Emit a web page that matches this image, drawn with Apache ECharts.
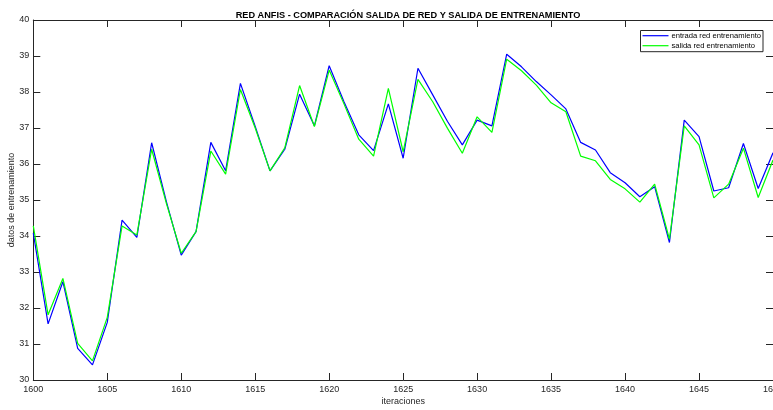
<!DOCTYPE html>
<html>
<head>
<meta charset="utf-8">
<script src="https://cdn.jsdelivr.net/npm/echarts@6/dist/echarts.min.js"></script>
<style>html,body{margin:0;padding:0;background:#fff;}#c{width:773px;height:410px;}</style>
</head>
<body>
<div id="c"></div>
<script>
const iteraciones = [1600,1601,1602,1603,1604,1605,1606,1607,1608,1609,1610,1611,1612,1613,1614,1615,1616,1617,1618,1619,1620,1621,1622,1623,1624,1625,1626,1627,1628,1629,1630,1631,1632,1633,1634,1635,1636,1637,1638,1639,1640,1641,1642,1643,1644,1645,1646,1647,1648,1649,1650];
const entrada = [34.08,31.56,32.73,30.88,30.42,31.60,34.44,33.96,36.59,34.95,33.47,34.12,36.60,35.81,38.24,37.04,35.81,36.41,37.94,37.06,38.73,37.73,36.81,36.37,37.67,36.16,38.66,37.92,37.18,36.53,37.22,37.06,39.05,38.70,38.29,37.92,37.53,36.60,36.39,35.76,35.48,35.09,35.37,33.82,37.22,36.76,35.25,35.34,36.57,35.32,36.31];
const salida = [34.28,31.81,32.82,31.02,30.53,31.74,34.28,34.03,36.41,34.90,33.52,34.12,36.36,35.72,38.07,37.00,35.81,36.45,38.18,37.04,38.61,37.67,36.69,36.22,38.10,36.34,38.35,37.73,36.99,36.30,37.31,36.88,38.91,38.59,38.19,37.70,37.45,36.22,36.09,35.57,35.31,34.94,35.44,33.91,37.06,36.53,35.06,35.44,36.44,35.07,36.11];
const serieNames = ['entrada red entrenamiento','salida red entrenamiento'];
const titulo = 'RED ANFIS - COMPARACIÓN SALIDA DE RED Y SALIDA DE ENTRENAMIENTO';
const xLabel = 'iteraciones';
const yLabel = 'datos de entrenamiento';

const axisCol = '#262626';
const font = 'Liberation Sans, Arial, sans-serif';
const chart = echarts.init(document.getElementById('c'), null, {renderer:'canvas'});
const common = {
  type:'value',
  axisLine:{show:true,onZero:false,lineStyle:{color:axisCol,width:1}},
  axisTick:{show:true,inside:true,length:7,lineStyle:{color:axisCol,width:1}},
  splitLine:{show:false}
};
chart.setOption({
  animation:false,
  backgroundColor:'#fff',
  title:{text:titulo,left:403,top:6,textAlign:'center',textStyle:{fontFamily:font,fontSize:9.2,fontWeight:'bold',color:'#000'}},
  legend:{
    data:serieNames, orient:'vertical', right:10, top:30.5,
    backgroundColor:'#fff', borderColor:'#262626', borderWidth:1, padding:[1.2,2,2,2],
    itemWidth:26, itemHeight:1.2, itemGap:2, icon:'rect',
    textStyle:{fontFamily:font,fontSize:7.6,lineHeight:8,color:'#000',padding:[0,0,0,-2]}
  },
  grid:{left:33.3,right:0,top:20,bottom:30,containLabel:false,outerBoundsMode:'none'},
  xAxis:[
    Object.assign({},common,{min:1600,max:1650,interval:5,position:'bottom',
      name:xLabel,nameLocation:'middle',nameGap:17,nameMoveOverlap:false,nameTextStyle:{fontFamily:font,fontSize:9,color:axisCol},
      axisLabel:{fontFamily:font,fontSize:9,color:axisCol,margin:5,formatter:v=>String(v)}}),
    Object.assign({},common,{min:1600,max:1650,interval:5,position:'top',axisLabel:{show:false}})
  ],
  yAxis:[
    Object.assign({},common,{min:30,max:40,interval:1,position:'left',
      name:yLabel,nameLocation:'middle',nameGap:17,nameMoveOverlap:false,nameTextStyle:{fontFamily:font,fontSize:9,color:axisCol},
      axisLabel:{fontFamily:font,fontSize:9,color:axisCol,margin:4,formatter:v=>String(v)}}),
    Object.assign({},common,{min:30,max:40,interval:1,position:'right',axisLabel:{show:false}})
  ],
  series:[
    {name:serieNames[0],type:'line',showSymbol:false,symbol:'none',data:iteraciones.map((x,i)=>[x,entrada[i]]),lineStyle:{color:'#0000ff',width:1.2},itemStyle:{color:'#0000ff'}},
    {name:serieNames[1],type:'line',showSymbol:false,symbol:'none',data:iteraciones.map((x,i)=>[x,salida[i]]),lineStyle:{color:'#00ff00',width:1.2},itemStyle:{color:'#00ff00'}}
  ]
});
</script>
</body>
</html>
